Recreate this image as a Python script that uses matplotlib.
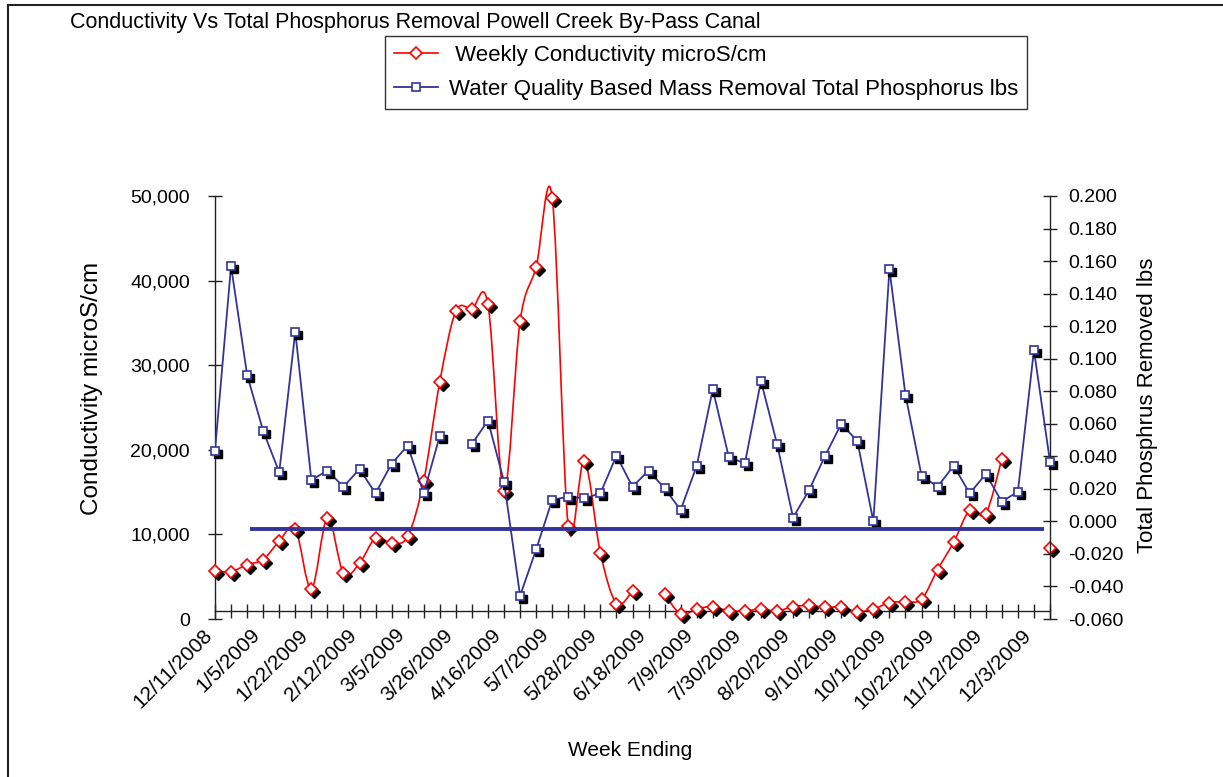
"""Conductivity vs total phosphorus removal, Powell Creek By-Pass Canal."""

import matplotlib

matplotlib.use("Agg")
import matplotlib.pyplot as plt
import numpy as np
from matplotlib import transforms
from matplotlib.lines import Line2D
from matplotlib.patches import PathPatch, Rectangle
from matplotlib.path import Path
from matplotlib.ticker import FuncFormatter, MultipleLocator

plt.rcParams["font.family"] = ["Liberation Sans", "DejaVu Sans"]
plt.rcParams["axes.unicode_minus"] = False

nan = np.nan

# every third week carries a label on the category axis
tick_dates = [
    "12/11/2008", "1/5/2009", "1/22/2009", "2/12/2009", "3/5/2009", "3/26/2009",
    "4/16/2009", "5/7/2009", "5/28/2009", "6/18/2009", "7/9/2009", "7/30/2009",
    "8/20/2009", "9/10/2009", "10/1/2009", "10/22/2009", "11/12/2009", "12/3/2009",
]
label_every = 3

conductivity = [
    5700, 5600, 6430, 7020, 9200, 10680, 3530, 11950, 5400, 6590,
    9580, 8990, 9780, 16350, 28060, 36390, 36670, 37180, 15150, 35200,
    41620, 49800, 10990, 18730, 7820, 1830, 3330, nan, 2940, 600,
    1190, 1460, 950, 950, 1190, 950, 1460, 1610, 1390, 1390,
    870, 1150, 1940, 2060, 2340, 5830, 9080, 12860, 12460, 18930,
    nan, nan, 8420,
]

phosphorus_removed = [
    0.0435, 0.157, 0.090, 0.0556, 0.0302, 0.1166, 0.0254, 0.0312, 0.0213, 0.0322,
    0.0172, 0.0355, 0.0465, 0.0172, 0.0527, nan, 0.0476, 0.0619, 0.0244, -0.0457,
    -0.0172, 0.0132, 0.0152, 0.0142, 0.0172, 0.0404, 0.0213, 0.0312, 0.0203, 0.0070,
    0.0342, 0.0812, 0.0394, 0.0357, 0.0863, 0.0476, 0.0023, 0.0193, 0.0404, 0.0599,
    0.0494, 0.0000, 0.1551, 0.0777, 0.0281, 0.0213, 0.0342, 0.0172, 0.0291, 0.0121,
    0.0183, 0.1053, 0.0367,
]

# flat reference line drawn across the plot (conductivity scale)
reference_level = 10600
reference_span = (2.2, 51.6)

RED = "#ff0000"
NAVY = "#333399"
AXIS = "#222222"


def smooth_path(x, y):
    """Excel-style smoothed line: cubic Bezier through each unbroken run of points."""
    verts, codes = [], []
    ok = np.isfinite(y)
    n = len(y)
    i = 0
    while i < n:
        if not ok[i]:
            i += 1
            continue
        j = i
        while j + 1 < n and ok[j + 1]:
            j += 1
        px, py = x[i:j + 1], y[i:j + 1]
        if len(px) > 1:
            verts.append((px[0], py[0]))
            codes.append(Path.MOVETO)
            last = len(px) - 1
            for k in range(last):
                k0, k3 = max(k - 1, 0), min(k + 2, last)
                c1 = (px[k] + (px[k + 1] - px[k0]) / 6, py[k] + (py[k + 1] - py[k0]) / 6)
                c2 = (px[k + 1] - (px[k3] - px[k]) / 6, py[k + 1] - (py[k3] - py[k]) / 6)
                verts += [c1, c2, (px[k + 1], py[k + 1])]
                codes += [Path.CURVE4] * 3
        i = j + 1
    return Path(verts, codes)


cond = np.array(conductivity, dtype=float)
phos = np.array(phosphorus_removed, dtype=float)
x = np.arange(len(cond))

fig = plt.figure(figsize=(12.23, 7.77), dpi=100)
ax = fig.add_axes([215 / 1223, 1 - 619 / 777, 835 / 1223, 423 / 777])
ax2 = ax.twinx()

# conductivity: smoothed red line, shadowed open diamonds
ax.add_patch(PathPatch(smooth_path(x, cond), fill=False, edgecolor=RED, lw=1.2,
                       zorder=2, clip_on=False))
shadow = transforms.offset_copy(ax.transData, fig=fig, x=3, y=-3, units="dots")
ax.plot(x, cond, ls="none", marker="D", ms=6.5, mfc="black", mec="black",
        transform=shadow, zorder=3, clip_on=False)
ax.plot(x, cond, ls="none", marker="D", ms=6.5, mfc="white", mec=RED, mew=1.2,
        zorder=4, clip_on=False)

# phosphorus: straight navy line, shadowed open squares
ax2.plot(x, phos, color=NAVY, lw=1.3, zorder=2)
shadow2 = transforms.offset_copy(ax2.transData, fig=fig, x=3, y=-3, units="dots")
ax2.plot(x, phos, ls="none", marker="s", ms=5.5, mfc="black", mec="black",
         transform=shadow2, zorder=3, clip_on=False)
ax2.plot(x, phos, ls="none", marker="s", ms=5.5, mfc="white", mec=NAVY, mew=1.2,
         zorder=4, clip_on=False)

ax2.plot(reference_span, [reference_level, reference_level], color=NAVY, lw=2.8,
         solid_capstyle="butt", transform=ax.transData, zorder=5)

ax.set_xlim(0, len(cond) - 1)
ax.set_ylim(0, 50000)
ax2.set_ylim(-0.06, 0.2)

ax.set_xticks(x)
ax.set_xticklabels([tick_dates[i // label_every] if i % label_every == 0 else "" for i in x])
ax.yaxis.set_major_locator(MultipleLocator(10000))
ax.yaxis.set_major_formatter(FuncFormatter(lambda v, _: f"{v:,.0f}"))
ax2.yaxis.set_major_locator(MultipleLocator(0.02))
ax2.yaxis.set_major_formatter(FuncFormatter(lambda v, _: f"{v:.3f}"))

for side in ("top", "right"):
    ax.spines[side].set_visible(False)
for side in ("top", "bottom", "left"):
    ax2.spines[side].set_visible(False)
ax.spines["bottom"].set_position(("data", 920))
for sp in (ax.spines["left"], ax.spines["bottom"], ax2.spines["right"]):
    sp.set_color(AXIS)
    sp.set_linewidth(1.0)

ax.tick_params(axis="x", direction="inout", length=10, width=1, pad=10,
               labelsize=15, color=AXIS)
ax.tick_params(axis="y", direction="inout", length=10, width=1, pad=13,
               labelsize=14, color=AXIS)
ax2.tick_params(axis="y", direction="inout", length=10, width=1, pad=8,
                labelsize=14, color=AXIS)

shift = transforms.ScaledTranslation(-6 / 100, 0, fig.dpi_scale_trans)
for lbl in ax.get_xticklabels():
    lbl.set_rotation(45)
    lbl.set_ha("right")
    lbl.set_va("center")
    lbl.set_rotation_mode("anchor")
    lbl.set_transform(lbl.get_transform() + shift)

fig.text(70 / 1223, 1 - 28 / 777,
         "Conductivity Vs Total Phosphorus Removal Powell Creek By-Pass Canal",
         ha="left", va="baseline", fontsize=15.5)
fig.text(92 / 1223, 1 - 388 / 777, "Conductivity microS/cm",
         rotation=90, ha="center", va="center", fontsize=17.5)
fig.text(1148 / 1223, 1 - 405 / 777, "Total Phosphrus Removed lbs",
         rotation=90, ha="center", va="center", fontsize=16)
fig.text(630 / 1223, 1 - 750 / 777, "Week Ending", ha="center", va="center", fontsize=15)

handles = [
    Line2D([], [], color=RED, lw=1.2, marker="D", ms=6.5, mfc="white", mec=RED, mew=1.2),
    Line2D([], [], color=NAVY, lw=1.3, marker="s", ms=5.5, mfc="white", mec=NAVY, mew=1.2),
]
leg = fig.legend(
    handles,
    [" Weekly Conductivity microS/cm",
     "Water Quality Based Mass Removal Total Phosphorus lbs"],
    loc="upper left",
    bbox_to_anchor=(385 / 1223, 1 - 110 / 777, 642 / 1223, 74 / 777),
    mode="expand", borderaxespad=0, fontsize=16, frameon=True, fancybox=False,
    handlelength=2.0, handletextpad=0.5, borderpad=0.4, labelspacing=0.6,
)
leg.get_frame().set_edgecolor("black")
leg.get_frame().set_linewidth(1.0)

fig.patches.append(Rectangle((8 / 1223, -0.1), 1.2, 1.1 - 5 / 777, transform=fig.transFigure,
                             fill=False, lw=1.5, ec=AXIS))

fig.savefig("out.png", dpi=100)
